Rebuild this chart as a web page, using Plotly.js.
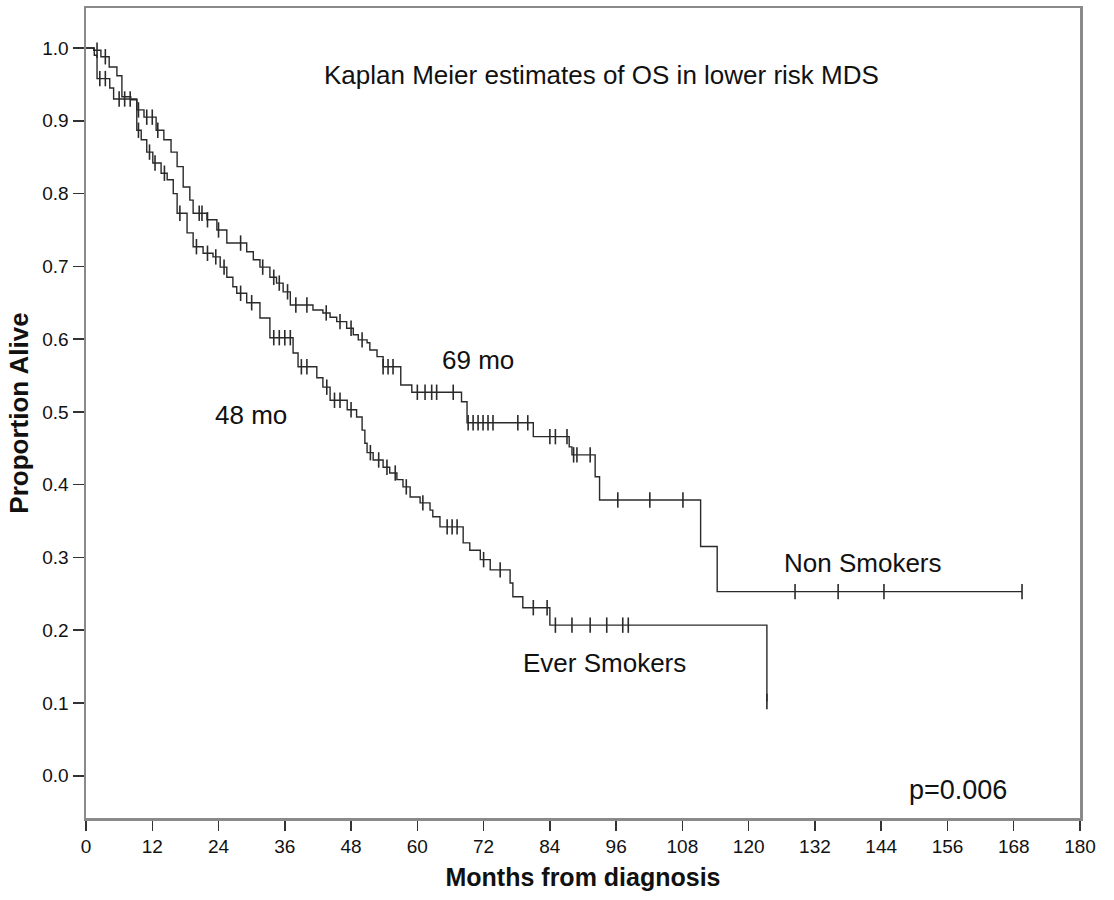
<!DOCTYPE html>
<html>
<head>
<meta charset="utf-8">
<script src="https://cdn.plot.ly/plotly-3.0.1.min.js"></script>
<style>html,body{margin:0;padding:0;background:#fff;}#chart{width:1114px;height:900px;}</style>
</head>
<body>
<div id="chart"></div>
<script>
// Non smokers: step times and survival after each time
const nsTime = [0, 1.4, 2.7, 4.2, 5.6, 6.5, 8.1, 9.2, 10.5, 12.7, 14.1, 15.4, 16.5, 17.6, 18.8, 19.4, 21.9, 23.7, 25.5, 29.1, 30.3, 31.5, 33.3, 34.5, 35.7, 37.0, 41.1, 42.9, 44.2, 45.4, 47.2, 48.4, 49.3, 50.9, 51.4, 52.7, 53.8, 57.0, 59.0, 68.0, 69.0, 81.0, 87.5, 88.0, 92.2, 93.0, 111.3, 114.3, 169.5];
const nsSurv = [1.0, 0.997, 0.988, 0.974, 0.962, 0.933, 0.929, 0.915, 0.905, 0.887, 0.874, 0.857, 0.837, 0.809, 0.791, 0.773, 0.764, 0.75, 0.732, 0.72, 0.709, 0.699, 0.685, 0.677, 0.665, 0.647, 0.64, 0.636, 0.63, 0.624, 0.615, 0.606, 0.599, 0.595, 0.585, 0.576, 0.562, 0.537, 0.527, 0.514, 0.485, 0.466, 0.452, 0.441, 0.411, 0.379, 0.315, 0.253, 0.253];
const nsCensor = [2, 3.5, 9.5, 11, 12, 13, 20.5, 21, 22, 24, 28, 32, 34, 35, 36.5, 38, 40, 43.5, 46, 48, 50, 53.8, 54.7, 55.6, 60, 61.4, 62.6, 63.5, 66.5, 69.2, 70.1, 71, 71.9, 72.8, 73.7, 78.2, 80, 84, 85, 87.1, 88.3, 88.9, 91.3, 96.3, 102.1, 108.1, 128.4, 136.2, 144.5, 169.5];

// Ever smokers
const esTime = [0, 1.5, 2.0, 4.3, 5.0, 9.2, 10.0, 11.0, 12.1, 13.6, 14.7, 15.8, 16.5, 18.3, 19.4, 21.2, 23.0, 24.3, 25.5, 26.6, 27.3, 29.1, 31.5, 33.3, 37.5, 38.4, 41.8, 42.9, 44.2, 47.3, 49.0, 50.0, 50.5, 50.9, 52.0, 53.8, 55.0, 56.3, 57.4, 58.7, 60.5, 62.3, 62.8, 64.1, 68.3, 69.5, 71.4, 73.2, 76.8, 77.3, 79.1, 84.0, 123.3];
const esSurv = [1.0, 0.99, 0.958, 0.945, 0.93, 0.887, 0.874, 0.857, 0.842, 0.828, 0.819, 0.80, 0.773, 0.746, 0.727, 0.718, 0.713, 0.699, 0.685, 0.672, 0.663, 0.65, 0.629, 0.602, 0.581, 0.562, 0.547, 0.534, 0.516, 0.503, 0.493, 0.475, 0.457, 0.444, 0.434, 0.424, 0.416, 0.407, 0.397, 0.383, 0.375, 0.365, 0.356, 0.342, 0.32, 0.31, 0.297, 0.283, 0.265, 0.246, 0.231, 0.207, 0.102];
const esCensor = [2.5, 3.5, 6, 7, 8, 9.5, 11.5, 12.5, 14.2, 17, 20, 22, 23.5, 25, 28, 30, 34, 35, 36, 37, 39, 40, 43.6, 45, 46, 48, 51.5, 53, 54.5, 56, 58, 61, 65.4, 66.3, 67.2, 72, 75, 81, 83.5, 85, 88, 91.3, 94.3, 97.2, 98.2, 123.3];

const xTicks = [0, 12, 24, 36, 48, 60, 72, 84, 96, 108, 120, 132, 144, 156, 168, 180];
const yTicks = [0.0, 0.1, 0.2, 0.3, 0.4, 0.5, 0.6, 0.7, 0.8, 0.9, 1.0];

function stepAt(times, surv, t) {
  let v = surv[0];
  for (let i = 0; i < times.length; i++) { if (times[i] <= t) v = surv[i]; else break; }
  return v;
}

const lineColor = '#2a2a2a';
const censorMarker = {symbol: 'line-ns-open', size: 11, color: lineColor, line: {color: lineColor, width: 1.6}};
const traces = [
  {x: nsTime, y: nsSurv, mode: 'lines', line: {shape: 'hv', color: lineColor, width: 1.4}, name: 'Non Smokers', hoverinfo: 'skip'},
  {x: esTime, y: esSurv, mode: 'lines', line: {shape: 'hv', color: lineColor, width: 1.4}, name: 'Ever Smokers', hoverinfo: 'skip'},
  {x: nsCensor, y: nsCensor.map(t => stepAt(nsTime, nsSurv, t)), mode: 'markers', marker: censorMarker, hoverinfo: 'skip'},
  {x: esCensor, y: esCensor.map(t => stepAt(esTime, esSurv, t)), mode: 'markers', marker: censorMarker, hoverinfo: 'skip'}
];

const font = 'Liberation Sans, Arial, sans-serif';
const narrow = 'Liberation Sans Narrow, Arial Narrow, Liberation Sans, sans-serif';
const txt = {size: 26, family: font, color: '#111'};
const layout = {
  width: 1114, height: 900,
  margin: {l: 86, r: 34, t: 8, b: 82},
  paper_bgcolor: '#fff', plot_bgcolor: '#fff',
  showlegend: false,
  font: {family: font, color: '#111'},
  xaxis: {
    range: [0, 180], tickvals: xTicks, ticktext: xTicks.map(String),
    showgrid: false, zeroline: false,
    showline: true, mirror: true, linecolor: '#8a8a8a', linewidth: 2.5,
    ticks: 'outside', ticklen: 10, tickwidth: 1.5, tickcolor: '#333',
    tickfont: {size: 19, family: narrow, color: '#111'},
    title: {text: 'Months from diagnosis', font: {size: 25, family: font, color: '#111', weight: 'bold'}, standoff: 12}
  },
  yaxis: {
    range: [-0.058, 1.055], tickvals: yTicks, ticktext: yTicks.map(v => v.toFixed(1)),
    showgrid: false, zeroline: false,
    showline: true, mirror: true, linecolor: '#8a8a8a', linewidth: 2.5,
    ticks: 'outside', ticklen: 11, tickwidth: 1.5, tickcolor: '#333',
    tickfont: {size: 19, family: font, color: '#111'},
    title: {text: 'Proportion Alive', font: {size: 26, family: font, color: '#111', weight: 'bold'}, standoff: 6}
  },
  annotations: [
    {x: 601, y: 75, text: 'Kaplan Meier estimates of OS in lower risk MDS', showarrow: false, font: txt},
    {x: 478, y: 360, text: '69 mo', showarrow: false, font: txt},
    {x: 251, y: 415, text: '48 mo', showarrow: false, font: txt},
    {x: 863, y: 563, text: 'Non Smokers', showarrow: false, font: txt},
    {x: 604, y: 663, text: 'Ever Smokers', showarrow: false, font: txt},
    {x: 958, y: 790, text: 'p=0.006', showarrow: false, font: {size: 27, family: font, color: '#111'}}
  ]
};
// convert pixel-placed annotation anchors to data coordinates
const pl = 86, pw = 1114 - 86 - 34, pt = 8, ph = 900 - 8 - 82;
layout.annotations = layout.annotations.map(a => Object.assign({}, a, {
  xref: 'x', yref: 'y',
  x: (a.x - pl) / pw * 180,
  y: 1.055 - (a.y - pt) / ph * (1.055 + 0.058)
}));
Plotly.newPlot('chart', traces, layout, {displayModeBar: false, staticPlot: true});
</script>
</body>
</html>
